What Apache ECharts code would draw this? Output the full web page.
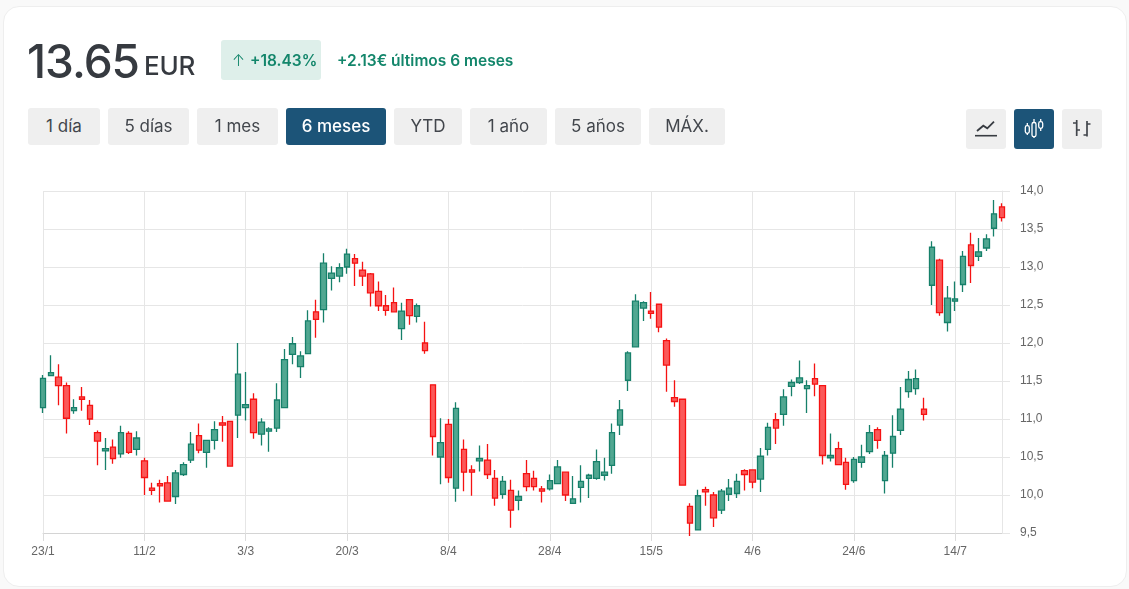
<!DOCTYPE html>
<html>
<head>
<meta charset="UTF-8">
<script src="https://cdn.jsdelivr.net/npm/echarts@6/dist/echarts.min.js"></script>
<style>
    html, body { margin: 0; padding: 0; width: 1129px; height: 589px; overflow: hidden; background: #f9f9f9; font-family: Inter, sans-serif; }
    #card { position: absolute; left: 3px; top: 6px; width: 1122px; height: 579px; background: #fff; border: 1px solid #eeeeee; border-radius: 16px; }
    .abs { position: absolute; white-space: nowrap; }
    #price { left: 27px; top: 33px; font-size: 46px; line-height: 56px; font-weight: 500; color: #363a40; letter-spacing: -1px; }
    #cur { left: 144px; top: 49px; font-size: 26px; line-height: 34px; font-weight: 500; color: #363a40; letter-spacing: -0.2px; }
    #pct { left: 221px; top: 40px; width: 100px; height: 40px; line-height: 41px; background: #deefea; border-radius: 3px; color: #13866b; font-size: 15.5px; font-weight: 600; }
    #pct span { position: absolute; left: 11px; font-weight: 300; }
    #pct b { position: absolute; left: 29px; font-weight: 600; }
    #chg { left: 337px; top: 51px; font-size: 15.5px; line-height: 20px; font-weight: 600; color: #13866b; }
    .btn { position: absolute; top: 108px; height: 37px; line-height: 37px; background: #efefef; border-radius: 3px; color: #42464c; font-size: 17px; text-align: center; }
    .btn.on { background: #1c5478; color: #fff; font-weight: 500; }
    .ico { top: 109px; width: 40px; height: 40px; }
    .ico svg { display: block; }
    #chart { position: absolute; left: 0; top: 0; width: 1129px; height: 589px; }
</style>
</head>
<body>
<div id="card"></div>
<div id="chart"></div>
<div class="abs" id="price">13.65</div>
<div class="abs" id="cur">EUR</div>
<div class="abs" id="pct"><span>↑</span><b>+18.43%</b></div>
<div class="abs" id="chg">+2.13€ últimos 6 meses</div>
<div class="btn" style="left:28px;width:72px">1 día</div>
<div class="btn" style="left:108px;width:81px">5 días</div>
<div class="btn" style="left:197px;width:81px">1 mes</div>
<div class="btn on" style="left:286px;width:100px">6 meses</div>
<div class="btn" style="left:394px;width:68px">YTD</div>
<div class="btn" style="left:470px;width:77px">1 año</div>
<div class="btn" style="left:555px;width:86px">5 años</div>
<div class="btn" style="left:649px;width:76px">MÁX.</div>
<div class="btn ico" style="left:966px">
    <svg width="40" height="40" fill="none" stroke="#383c42"><path d="M11 22l6.3-5.3 4 2.6 6.7-6.6" stroke-width="1.8"/><path d="M9 26.7h22" stroke-width="1.6"/></svg>
</div>
<div class="btn ico on" style="left:1014px">
    <svg width="40" height="40" fill="none" stroke="#fff" stroke-width="1.3"><rect x="11.3" y="16.7" width="4" height="7.6" rx="1.8"/><path d="M13.3 14v2.7M13.3 24.3V26"/><rect x="18" y="13.5" width="4" height="14.2" rx="1.8"/><path d="M20 10v3.5M20 27.7V29"/><rect x="24.7" y="12.7" width="4" height="6.6" rx="1.8"/><path d="M26.7 10v2.7M26.7 19.3V22"/></svg>
</div>
<div class="btn ico" style="left:1062px">
    <svg width="40" height="40" fill="none" stroke="#42464c" stroke-width="1.7"><path d="M14.7 11v16M11 14h3.7M14.7 21H18"/><path d="M25 12v15.5M25 15h3.5M21.5 26H25"/></svg>
</div>
<script>
    var tickIndex = [0, 13, 26, 39, 52, 65, 78, 91, 104, 117];
    var tickLabels = ['23/1', '11/2', '3/3', '20/3', '8/4', '28/4', '15/5', '4/6', '24/6', '14/7'];

    var openValues = [
        11.15, 11.57, 11.55, 11.44, 11.11, 11.29, 11.18, 10.82, 10.58, 10.63,
        10.54, 10.81, 10.60, 10.45, 10.09, 10.15, 10.16, 9.98, 10.27, 10.46,
        10.78, 10.56, 10.72, 10.95, 10.97, 11.05, 11.15, 11.26, 10.80, 10.84,
        10.88, 11.15, 11.85, 11.69, 11.86, 12.41, 12.44, 12.85, 12.88, 13.00,
        13.11, 12.96, 12.91, 12.68, 12.49, 12.53, 12.19, 12.57, 12.35, 12.00,
        11.45, 10.50, 10.93, 10.09, 10.60, 10.33, 10.45, 10.46, 10.22, 10.01,
        10.06, 9.93, 10.28, 10.22, 10.08, 10.08, 10.15, 10.30, 9.89, 10.10,
        10.22, 10.22, 10.26, 10.39, 10.92, 11.51, 11.95, 12.46, 12.42, 12.51,
        12.03, 11.28, 11.26, 9.85, 9.54, 10.07, 10.00, 9.80, 10.01, 10.02,
        10.32, 10.33, 10.21, 10.60, 10.99, 11.06, 11.43, 11.48, 11.40, 11.53,
        11.44, 10.49, 10.61, 10.43, 10.19, 10.43, 10.57, 10.86, 10.19, 10.55,
        10.85, 11.36, 11.40, 11.13, 12.76, 13.09, 12.27, 12.55, 12.77, 13.29,
        13.14, 13.25, 13.51, 13.79
    ];
    var closeValues = [
        11.535, 11.61, 11.44, 11.01, 11.15, 11.26, 11.00, 10.71, 10.61, 10.48,
        10.82, 10.56, 10.75, 10.23, 10.06, 10.12, 9.92, 10.29, 10.40, 10.67,
        10.59, 10.72, 10.86, 10.92, 10.38, 11.59, 11.19, 10.82, 10.96, 10.87,
        11.25, 11.78, 11.99, 11.83, 12.29, 12.31, 13.05, 12.92, 12.99, 13.17,
        13.05, 12.88, 12.66, 12.49, 12.43, 12.41, 12.42, 12.36, 12.49, 11.90,
        10.77, 10.69, 10.23, 11.14, 10.30, 10.30, 10.48, 10.27, 9.96, 10.18,
        9.80, 9.98, 10.11, 10.11, 10.05, 10.19, 10.37, 10.00, 9.95, 10.18,
        10.26, 10.44, 10.30, 10.82, 11.12, 11.87, 12.55, 12.53, 12.39, 12.21,
        11.71, 11.23, 10.13, 9.63, 9.99, 10.04, 9.70, 10.05, 10.09, 10.18,
        10.27, 10.17, 10.51, 10.89, 10.88, 11.29, 11.48, 11.54, 11.44, 11.46,
        10.52, 10.52, 10.40, 10.14, 10.47, 10.50, 10.82, 10.72, 10.52, 10.77,
        11.13, 11.52, 11.53, 11.06, 13.26, 12.40, 12.59, 12.58, 13.14, 13.02,
        13.20, 13.37, 13.70, 13.65
    ];
    var lowValues = [
        11.08, 11.57, 11.18, 10.81, 11.07, 11.11, 10.92, 10.39, 10.33, 10.41,
        10.49, 10.54, 10.52, 10.00, 10.00, 9.90, 9.92, 9.88, 10.25, 10.42,
        10.55, 10.36, 10.60, 10.70, 10.38, 10.75, 10.98, 10.74, 10.65, 10.57,
        10.83, 11.15, 11.72, 11.54, 11.86, 12.07, 12.27, 12.69, 12.80, 12.91,
        12.75, 12.75, 12.48, 12.42, 12.36, 12.41, 12.04, 12.24, 12.27, 11.86,
        10.52, 10.14, 10.16, 9.91, 10.05, 9.99, 10.31, 10.21, 9.86, 9.95,
        9.57, 9.80, 10.05, 10.06, 9.90, 10.06, 10.15, 9.92, 9.89, 9.90,
        9.96, 10.20, 10.19, 10.28, 10.79, 11.37, 11.95, 12.29, 12.32, 12.14,
        11.36, 11.16, 10.13, 9.46, 9.54, 9.86, 9.58, 9.75, 9.92, 9.96,
        10.06, 10.09, 10.04, 10.52, 10.67, 10.91, 11.30, 11.46, 11.08, 11.30,
        10.40, 10.44, 10.40, 10.07, 10.16, 10.36, 10.54, 10.61, 10.02, 10.36,
        10.79, 11.28, 11.32, 10.98, 12.50, 12.36, 12.15, 12.42, 12.67, 12.79,
        13.08, 13.21, 13.40, 13.60
    ];
    var highValues = [
        11.58, 11.84, 11.72, 11.48, 11.26, 11.42, 11.25, 10.85, 10.75, 10.73,
        10.91, 10.84, 10.84, 10.49, 10.16, 10.20, 10.25, 10.33, 10.43, 10.83,
        10.94, 10.72, 10.97, 11.04, 10.97, 12.00, 11.62, 11.34, 11.01, 10.89,
        11.47, 11.92, 12.08, 11.89, 12.43, 12.57, 13.18, 13.01, 13.05, 13.24,
        13.17, 13.07, 12.92, 12.81, 12.63, 12.73, 12.53, 12.57, 12.52, 12.28,
        11.45, 11.01, 11.00, 11.22, 10.73, 10.39, 10.65, 10.67, 10.33, 10.25,
        10.20, 10.06, 10.46, 10.32, 10.12, 10.27, 10.46, 10.30, 10.25, 10.39,
        10.28, 10.60, 10.49, 10.94, 11.25, 11.89, 12.64, 12.55, 12.67, 12.51,
        12.06, 11.51, 11.26, 9.89, 10.07, 10.11, 10.04, 10.08, 10.21, 10.28,
        10.34, 10.33, 10.62, 10.95, 11.08, 11.39, 11.52, 11.77, 11.51, 11.73,
        11.44, 10.81, 10.70, 10.49, 10.50, 10.66, 10.92, 10.89, 10.58, 11.05,
        11.42, 11.63, 11.65, 11.28, 13.34, 13.11, 12.75, 12.81, 13.21, 13.45,
        13.38, 13.43, 13.88, 13.84
    ];

    var categories = [];
    var candles = [];
    for (var i = 0; i < openValues.length; i++) {
        var k = tickIndex.indexOf(i);
        categories.push(k >= 0 ? tickLabels[k] : String(i));
        candles.push([openValues[i], closeValues[i], lowValues[i], highValues[i]]);
    }

    var chart = echarts.init(document.getElementById('chart'), null, {renderer: 'canvas'});
    chart.setOption({
        animation: false,
        grid: {left: 43, right: 127, top: 191, bottom: 56, containLabel: false},
        xAxis: {
            type: 'category',
            data: categories,
            boundaryGap: false,
            axisLine: {lineStyle: {color: '#d4d4d4'}},
            axisTick: {length: 8, lineStyle: {color: '#dcdcdc'}, customValues: tickIndex},
            axisLabel: {
                customValues: tickIndex,
                margin: 13,
                color: '#666',
                fontFamily: 'Liberation Sans',
                fontSize: 12
            },
            splitLine: {show: true, lineStyle: {color: '#e6e6e6'}}
        },
        yAxis: {
            type: 'value',
            position: 'right',
            min: 9.5,
            max: 14,
            interval: 0.5,
            scale: true,
            axisLine: {show: true, lineStyle: {color: '#e6e6e6'}},
            axisTick: {show: true, length: 8, lineStyle: {color: '#e6e6e6'}},
            axisLabel: {
                margin: 18,
                padding: [4, 0, 0, 0],
                color: '#666',
                fontFamily: 'Liberation Sans',
                fontSize: 12,
                formatter: function (v) {
                    return v.toFixed(1).replace('.', ',');
                }
            },
            splitLine: {show: true, lineStyle: {color: '#e6e6e6'}}
        },
        series: [{
            type: 'candlestick',
            data: candles,
            clip: false,
            barWidth: 6,
            itemStyle: {
                color: 'rgba(38,145,118,0.8)',
                color0: 'rgba(250,60,60,0.85)',
                borderColor: '#16806a',
                borderColor0: '#f51212',
                borderWidth: 1.3
            }
        }]
    });
</script>
</body>
</html>
